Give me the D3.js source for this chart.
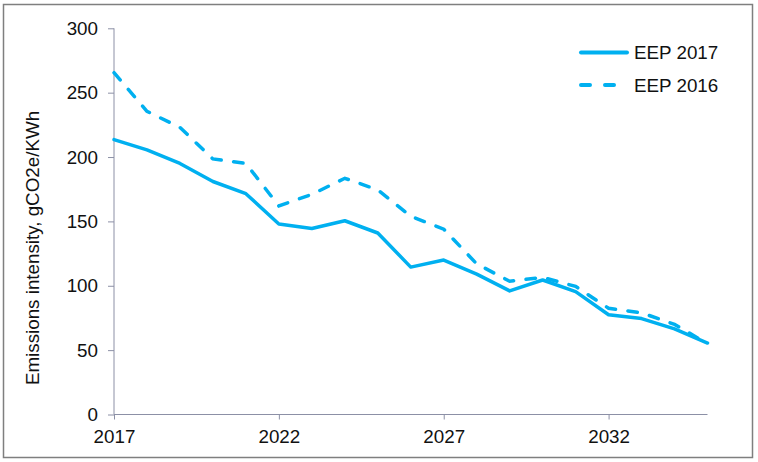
<!DOCTYPE html>
<html><head><meta charset="utf-8">
<script src="https://cdn.jsdelivr.net/npm/d3@7"></script>
<style>
html,body{margin:0;padding:0;background:#fff;}
svg{display:block;font-family:"Liberation Sans",Arial,sans-serif;}
</style></head>
<body>
<svg id="chart" width="758" height="462"></svg>
<script>
const years = [2017,2018,2019,2020,2021,2022,2023,2024,2025,2026,2027,2028,2029,2030,2031,2032,2033,2034,2035];
const eep2017 = [213.5,205.5,195,181,171.5,148,144.5,150.5,141,114.5,120,109,96,104.5,95.5,77.5,74.5,66.5,55.5];
const eep2016 = [265.5,235.5,223,198.5,195,162,171,183.5,174.5,154,144,117,103.5,106.5,99.5,82.5,79,70,55];
const xTicks = [2017,2022,2027,2032];
const yTicks = [0,50,100,150,200,250,300];
const seriesNames = ["EEP 2017","EEP 2016"];

const color = "#00b0f0";
const axisColor = "#8c90a6";
const fs = 18.8;
const svg = d3.select("#chart");

svg.append("rect").attr("x",3.5).attr("y",4.5).attr("width",749).attr("height",453)
  .attr("fill","#fff").attr("stroke","#7f7f7f").attr("stroke-width",1.5);

const x = d3.scaleLinear().domain([2017,2035]).range([114,707.5]);
const y = d3.scaleLinear().domain([0,300]).range([414.5,28.3]);

// y axis
const yAxis = svg.append("g").attr("transform","translate(114,0)")
  .call(d3.axisLeft(y).tickValues(yTicks).tickSize(6).tickPadding(10).tickFormat(d3.format("d")));
yAxis.select(".domain").attr("stroke",axisColor).attr("stroke-width",1).attr("d","M0,"+y(300)+"V"+y(0));
yAxis.selectAll(".tick line").attr("stroke",axisColor);
yAxis.selectAll(".tick text").attr("fill","#111").attr("font-size",fs).attr("font-family","Liberation Sans, Arial, sans-serif");

// x axis
const xAxis = svg.append("g").attr("transform","translate(0,"+y(0)+")")
  .call(d3.axisBottom(x).tickValues(xTicks).tickSize(5).tickPadding(10).tickFormat(d3.format("d")));
xAxis.select(".domain").attr("stroke",axisColor).attr("stroke-width",1).attr("d","M"+x(2017)+",0H"+x(2035));
xAxis.selectAll(".tick line").attr("stroke",axisColor);
xAxis.selectAll(".tick text").attr("fill","#111").attr("font-size",fs).attr("font-family","Liberation Sans, Arial, sans-serif");

// y axis title
svg.append("text").attr("transform","translate(39,248) rotate(-90)")
  .attr("text-anchor","middle").attr("font-size",fs).attr("fill","#111")
  .text("Emissions intensity, gCO2e/KWh");

const line = d3.line().x((d,i)=>x(years[i])).y(d=>y(d));

svg.append("path").datum(eep2016).attr("d",line).attr("fill","none")
  .attr("stroke",color).attr("stroke-width",3.5).attr("stroke-linecap","round")
  .attr("stroke-dasharray","9.5,12.5");
svg.append("path").datum(eep2017).attr("d",line).attr("fill","none")
  .attr("stroke",color).attr("stroke-width",3.5).attr("stroke-linejoin","round").attr("stroke-linecap","round");

// legend
const leg = svg.append("g");
[0,1].forEach(i=>{
  const ly = 52.5 + i*32.5;
  leg.append("line").attr("x1",581).attr("x2",627).attr("y1",ly).attr("y2",ly)
    .attr("stroke",color).attr("stroke-width",4).attr("stroke-linecap","round")
    .attr("stroke-dasharray", i===1 ? "9,15" : null);
  leg.append("text").attr("x",634).attr("y",ly).attr("dy","0.35em")
    .attr("font-size",fs).attr("fill","#111").text(seriesNames[i]);
});
</script>
</body></html>
